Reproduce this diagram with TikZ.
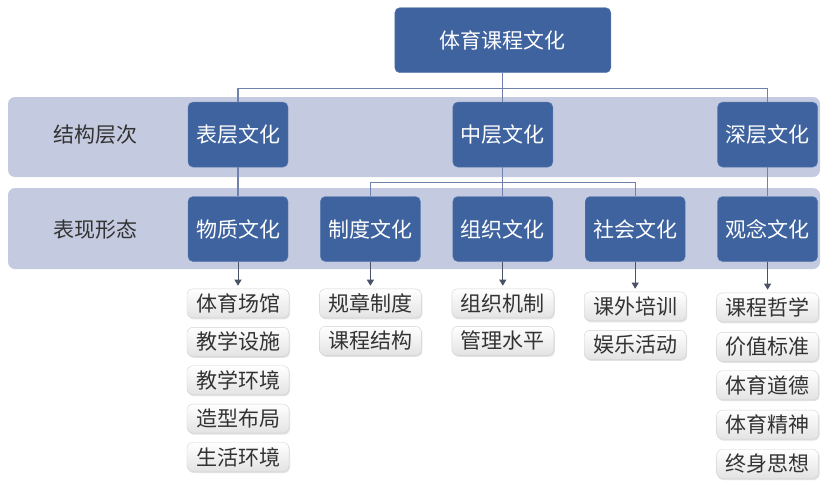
\documentclass[tikz,border=0pt]{standalone}
\usepackage{fontspec}
\usepackage{xcolor}
\usepackage{tikz}
\usetikzlibrary{positioning,arrows.meta,shadows}
\newfontfamily\cjk{Noto Sans CJK SC}
\definecolor{boxblue}{HTML}{3F639E}
\definecolor{boxedge}{HTML}{5A7BB0}
\definecolor{bandgray}{HTML}{C4CBE0}
\definecolor{linkblue}{HTML}{6F82AD}
\definecolor{tipgray}{HTML}{4A5268}

\begin{document}
\begin{tikzpicture}[
    x=1pt,y=-1pt,
    node distance=29pt and 32pt,
    band/.style={fill=bandgray,rounded corners=7pt},
    bandlabel/.style={font=\cjk\fontsize{21}{25}\selectfont,text=black!80},
    block/.style={rectangle,draw=boxedge,fill=boxblue,rounded corners=5pt,
                  minimum width=100pt,minimum height=65pt,text=white,
                  font=\cjk\fontsize{21}{25}\selectfont},
    item/.style={rectangle,draw=gray!35,rounded corners=6pt,top color=white,
                 bottom color=gray!22,minimum width=102pt,minimum height=29pt,
                 inner sep=0pt,text=black!80,font=\cjk\fontsize{21}{25}\selectfont,
                 drop shadow={shadow xshift=1pt,shadow yshift=-1.5pt,fill=gray!45}},
    link/.style={draw=linkblue,line width=1.1pt},
    arrow/.style={-{Triangle[length=6pt,width=7pt]},draw=tipgray,line width=0.8pt,
                  shorten >=3pt}
]
\useasboundingbox (0,0) rectangle (825,480);

% bands
\path[band] (8,97) rectangle (820,177);
\path[band] (8,188) rectangle (820,269);
\node[bandlabel] (lvl) at (95,135) {结构层次};
\node[bandlabel] (frm) at (95,230) {表现形态};

% level 2
\node[block] (wz) at (238,229) {物质文化};
\node[block,right=of wz] (zd) {制度文化};
\node[block,right=of zd] (zz) {组织文化};
\node[block,right=of zz] (sh) {社会文化};
\node[block,right=of sh] (gn) {观念文化};

% level 1
\node[block,above=of wz] (bc) {表层文化};
\node[block,above=of zz] (zc) {中层文化};
\node[block,above=of gn] (sc) {深层文化};
\node[block,above=of zc,minimum width=216pt] (top) {体育课程文化};

% links
\draw[link] (top) -- (zc);
\draw[link] (bc.north) -- ++(0,-13) -| (sc.north);
\draw[link] (zc) -- (zz);
\draw[link] (zd.north) -- ++(0,-14) -| (sh.north);
\draw[link] (bc) -- (wz);
\draw[link] (sc) -- (gn);

% items
\node[item,below=27pt of wz] (wz1) {体育场馆};
\node[item,below=9pt of wz1] (wz2) {教学设施};
\node[item,below=9pt of wz2] (wz3) {教学环境};
\node[item,below=9pt of wz3] (wz4) {造型布局};
\node[item,below=9pt of wz4] (wz5) {生活环境};

\node[item,below=27pt of zd] (zd1) {规章制度};
\node[item,below=8pt of zd1] (zd2) {课程结构};

\node[item,below=27pt of zz] (zz1) {组织机制};
\node[item,below=8pt of zz1] (zz2) {管理水平};

\node[item,below=30pt of sh] (sh1) {课外培训};
\node[item,below=9pt of sh1] (sh2) {娱乐活动};

\node[item,below=31pt of gn] (gn1) {课程哲学};
\node[item,below=10pt of gn1] (gn2) {价值标准};
\node[item,below=9pt of gn2] (gn3) {体育道德};
\node[item,below=10pt of gn3] (gn4) {体育精神};
\node[item,below=10pt of gn4] (gn5) {终身思想};

\draw[arrow] (wz) -- (wz1);
\draw[arrow] (zd) -- (zd1);
\draw[arrow] (zz) -- (zz1);
\draw[arrow] (sh) -- (sh1);
\draw[arrow] (gn) -- (gn1);
\end{tikzpicture}
\end{document}
